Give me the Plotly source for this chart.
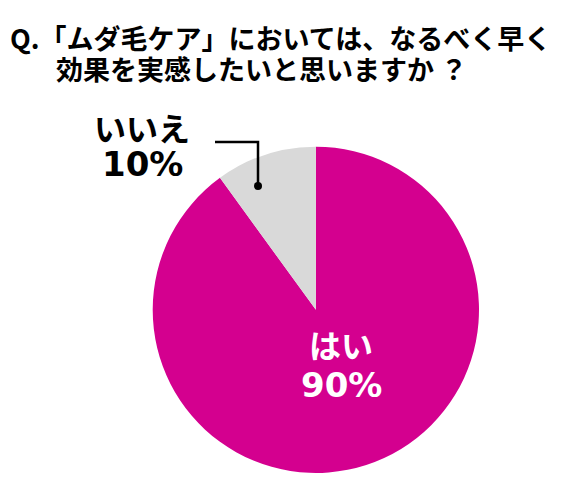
import plotly.graph_objects as go

# データ
labels = ["はい", "いいえ"]
values = [90, 10]
colors = ["#D4008F", "#D9D9D9"]
title_lines = ["Q.「ムダ毛ケア」においては、なるべく早く", "効果を実感したいと思いますか ？"]

W, H = 574, 492
OFF = 8  # ページ余白の分
JP = "Noto Sans CJK JP"
NUM = "DejaVu Sans, Noto Sans CJK JP"


def px(x):
    return (x - OFF) / W


def py(y):
    return 1 - (y - OFF) / H


fig = go.Figure(go.Pie(
    labels=labels,
    values=values,
    sort=False,
    direction="clockwise",
    rotation=0,
    marker=dict(colors=colors, line=dict(width=0)),
    textinfo="none",
    hoverinfo="label+percent",
    domain=dict(x=[px(151.7), px(480)], y=[py(473), py(146.7)]),
    showlegend=False,
))


def label(x, y, text, family, size, color):
    fig.add_annotation(x=px(x), y=py(y), text=f"<b>{text}</b>", showarrow=False,
                       xanchor="center", yanchor="middle",
                       font=dict(family=family, size=size, color=color))


# ラベル
pct = [f"{v}%" for v in values]
label(341, 344, labels[0], JP, 32, "white")
label(341, 385, pct[0], NUM, 34, "white")
label(142, 127, labels[1], JP, 32, "black")
label(142, 164, pct[1], NUM, 34, "black")

# 引き出し線
fig.add_shape(type="path", xref="paper", yref="paper",
              path=f"M {px(215)} {py(142)} L {px(258)} {py(142)} L {px(258)} {py(186)}",
              line=dict(color="black", width=2.5))
fig.add_shape(type="circle", xref="paper", yref="paper",
              x0=px(254), x1=px(262), y0=py(190), y1=py(182),
              fillcolor="black", line=dict(width=0))

# タイトル
label(280, 37, title_lines[0], JP, 27, "black")
label(262, 68, title_lines[1], JP, 27, "black")

fig.update_layout(
    width=W, height=H,
    margin=dict(l=0, r=0, t=0, b=0),
    paper_bgcolor="white",
    plot_bgcolor="white",
)

fig.write_html("out.html")
